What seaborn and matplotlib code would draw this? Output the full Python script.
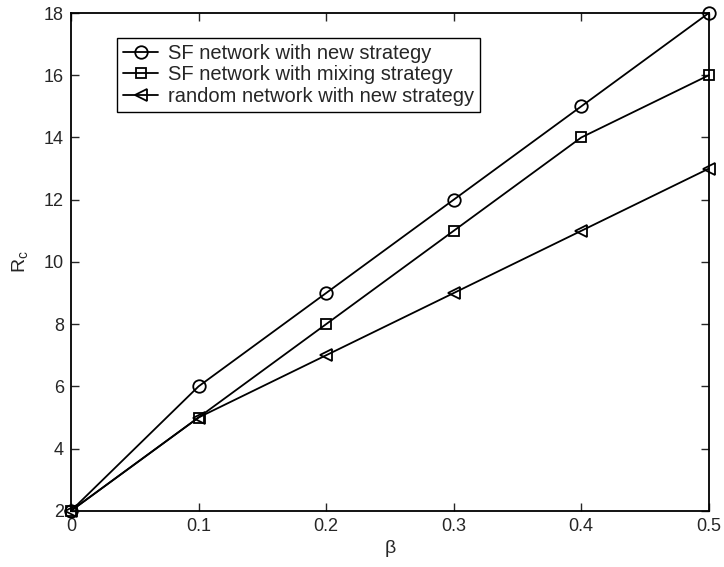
import matplotlib
matplotlib.use("Agg")
from matplotlib import pyplot as plt
import pandas as pd
import seaborn as sns

beta = [0.0, 0.1, 0.2, 0.3, 0.4, 0.5]
sf_new = [2, 6, 9, 12, 15, 18]
sf_mixing = [2, 5, 8, 11, 14, 16]
random_new = [2, 5, 7, 9, 11, 13]

labels = ["SF network with new strategy",
          "SF network with mixing strategy",
          "random network with new strategy"]
markers = ["o", "s", "<"]
msizes = [9, 7, 9]

sns.set_style("ticks")
plt.rcParams["font.family"] = ["Liberation Sans", "DejaVu Sans"]
plt.rcParams["mathtext.fontset"] = "custom"
plt.rcParams["mathtext.rm"] = "Liberation Sans"
plt.rcParams["mathtext.it"] = "Liberation Sans"

fig = plt.figure(figsize=(7.24, 5.67), dpi=100)
ax = fig.add_axes([0.098, 0.099, 0.881, 0.878])

for series, label, mk, ms in zip([sf_new, sf_mixing, random_new], labels, markers, msizes):
    df = pd.DataFrame({"beta": beta, "Rc": series})
    sns.lineplot(data=df, x="beta", y="Rc", ax=ax, color="black", linewidth=1.3,
                 marker=mk, markersize=ms, markerfacecolor="none",
                 markeredgecolor="black", markeredgewidth=1.3, label=label,
                 clip_on=False, zorder=5)

ax.set_xlim(0, 0.5)
ax.set_ylim(2, 18)
ax.set_xticks([0, 0.1, 0.2, 0.3, 0.4, 0.5])
ax.set_xticklabels(["0", "0.1", "0.2", "0.3", "0.4", "0.5"])
ax.set_yticks(range(2, 19, 2))
ax.tick_params(direction="in", top=True, right=True, length=6, width=1,
               labelsize=13)
ax.tick_params(axis="x", pad=5)
ax.tick_params(axis="y", pad=5)
for s in ax.spines.values():
    s.set_linewidth(1.3)
    s.set_color("black")

ax.set_xlabel("β", fontsize=14, labelpad=4)
ax.set_ylabel("R$_\\mathregular{c}$", fontsize=14, labelpad=10)

leg = ax.legend(loc="upper left", bbox_to_anchor=(0.072, 0.95), fontsize=14.5,
                frameon=True, fancybox=False, handlelength=1.75,
                borderpad=0.3, labelspacing=0.12, handletextpad=0.5,
                borderaxespad=0)
leg.get_frame().set_edgecolor("black")
leg.get_frame().set_linewidth(1.0)
leg.get_frame().set_alpha(1)

plt.savefig("out.png", dpi=100)
